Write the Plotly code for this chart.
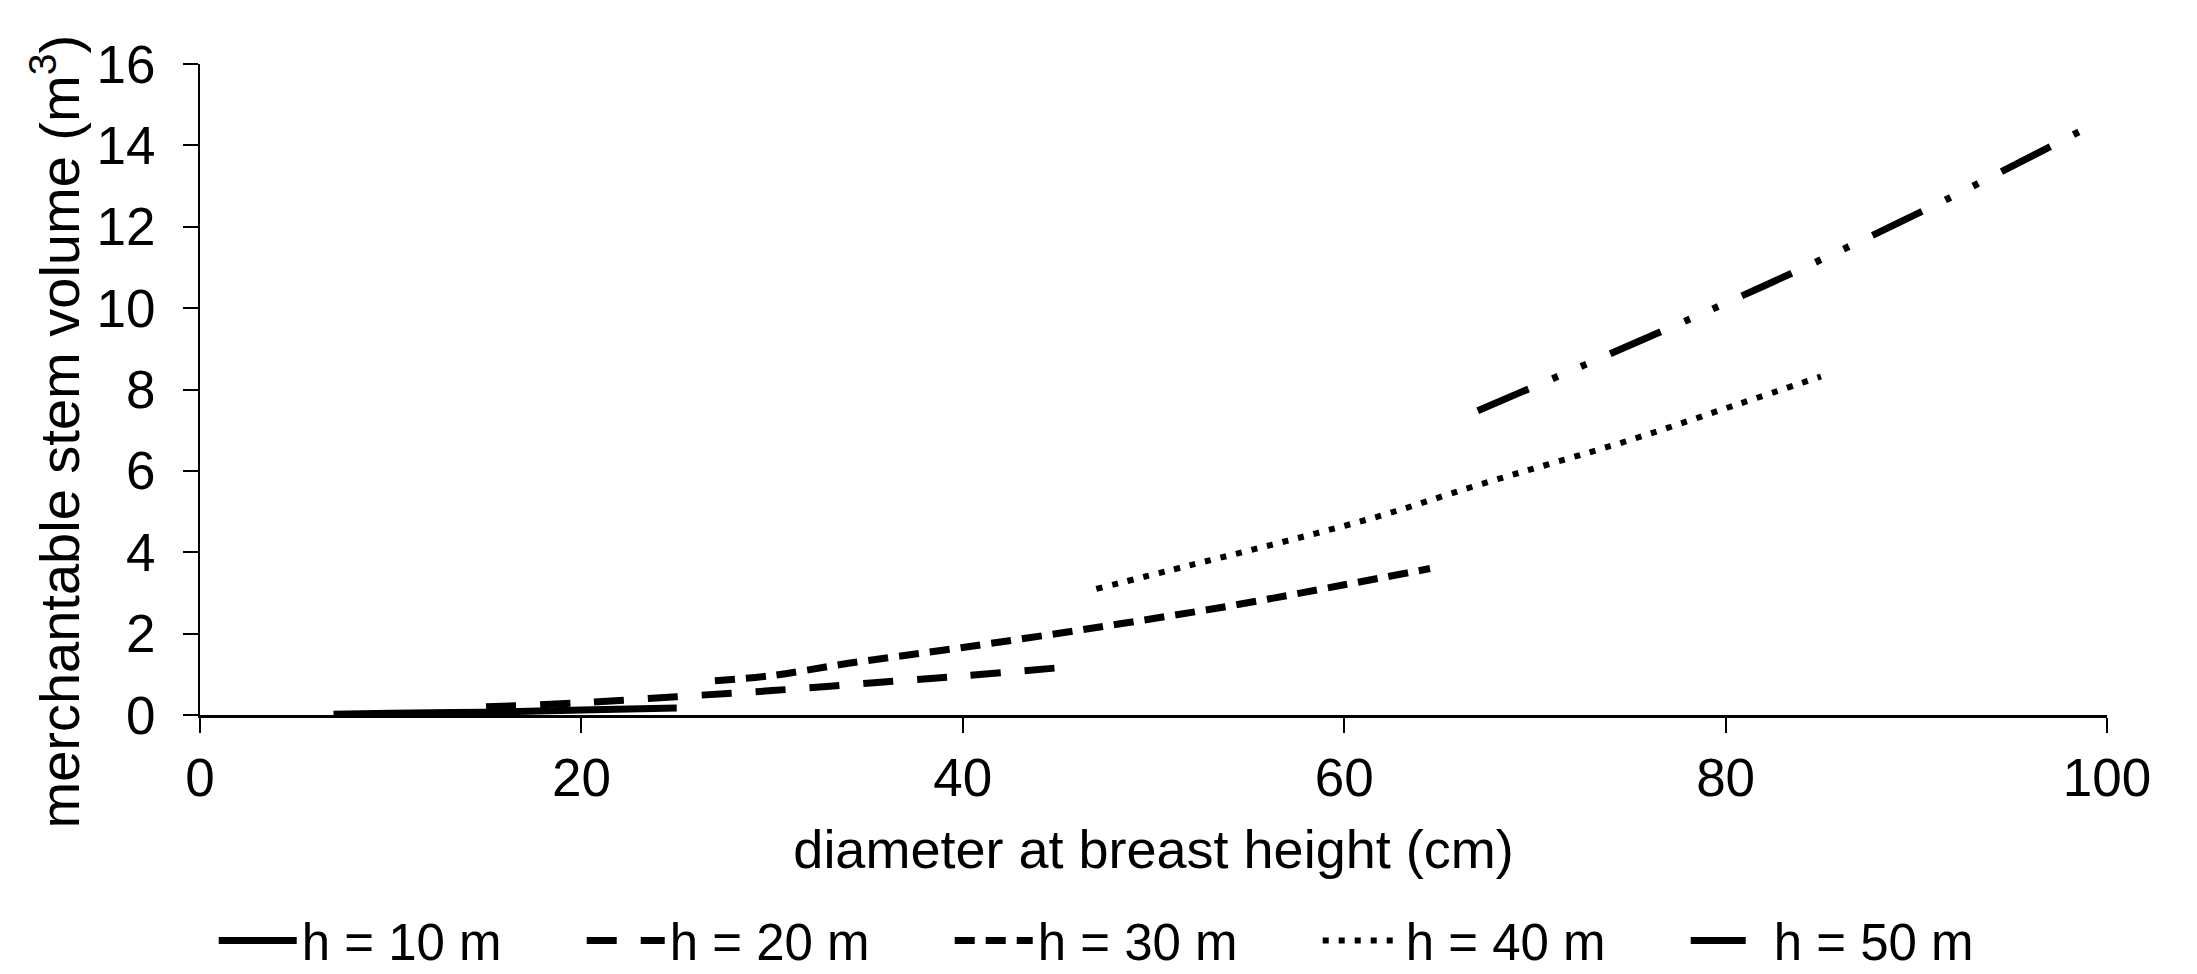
import plotly.graph_objects as go

dbh_h10 = [7, 10, 15, 20, 25]
vol_h10 = [0.02, 0.04, 0.07, 0.12, 0.17]
dbh_h20 = [15, 20, 25, 30, 35, 40, 45]
vol_h20 = [0.2, 0.3, 0.45, 0.6, 0.78, 0.96, 1.16]
dbh_h30 = [27, 30, 34, 40, 47, 54, 60, 64.5]
vol_h30 = [0.84, 0.97, 1.27, 1.66, 2.15, 2.68, 3.2, 3.6]
dbh_h40 = [47, 52, 57, 62, 67, 75, 80.6, 85]
vol_h40 = [3.1, 3.69, 4.28, 4.91, 5.65, 6.76, 7.63, 8.32]
dbh_h50 = [67, 77, 84.4, 91.7, 98.8]
vol_h50 = [7.48, 9.5, 11.06, 12.7, 14.4]

names = ["h = 10 m", "h = 20 m", "h = 30 m", "h = 40 m", "h = 50 m"]
dashes = ["solid", "30px,24px", "20px,11px", "6px,10px", "55px,26px,6px,25px,6px,26px"]
widths = [7, 7, 7, 6, 7]

x_ticks = [0, 20, 40, 60, 80, 100]
y_ticks = [0, 2, 4, 6, 8, 10, 12, 14, 16]
x_title = "diameter at breast height (cm)"
y_title = "merchantable stem volume (m<sup>3</sup>)"

FONT = "Liberation Sans, Arial, sans-serif"

fig = go.Figure()
series = [(dbh_h10, vol_h10), (dbh_h20, vol_h20), (dbh_h30, vol_h30),
          (dbh_h40, vol_h40), (dbh_h50, vol_h50)]
for (x, y), n, d, w in zip(series, names, dashes, widths):
    fig.add_trace(go.Scatter(x=x, y=y, mode="lines", name=n,
                             line=dict(color="black", width=w, dash=d, shape="spline")))

# page body has an 8px margin, so the figure is offset by 8px in the window
fig.update_layout(
    width=2181, height=966,
    margin=dict(l=192, r=82, t=56, b=259, autoexpand=False),
    paper_bgcolor="white", plot_bgcolor="white",
    font=dict(family=FONT, size=52, color="black"),
    showlegend=True,
    legend=dict(orientation="h", x=0.0072, xanchor="left", y=-0.347, yanchor="middle",
                font=dict(size=51), entrywidth=275, entrywidthmode="pixels",
                itemwidth=78),
    annotations=[dict(text=y_title, textangle=-90, xref="paper", yref="paper",
                      x=-0.0755, y=0.4355, xanchor="center", yanchor="middle",
                      showarrow=False, font=dict(size=56))],
)
fig.update_xaxes(range=[0, 100], tickvals=x_ticks, automargin=False,
                 showgrid=False, zeroline=False, showline=True, linecolor="black",
                 linewidth=3, ticks="outside", ticklen=15, tickwidth=2, tickcolor="black",
                 tickfont=dict(size=53), ticklabelstandoff=-1,
                 title=dict(text=x_title, font=dict(size=54), standoff=25))
fig.update_yaxes(range=[0, 16], tickvals=y_ticks, automargin=False,
                 showgrid=False, zeroline=False, showline=True, linecolor="black",
                 linewidth=2, ticks="outside", ticklen=15, tickwidth=2, tickcolor="black",
                 tickfont=dict(size=53), ticklabelstandoff=17)

fig.write_html("out.html")
